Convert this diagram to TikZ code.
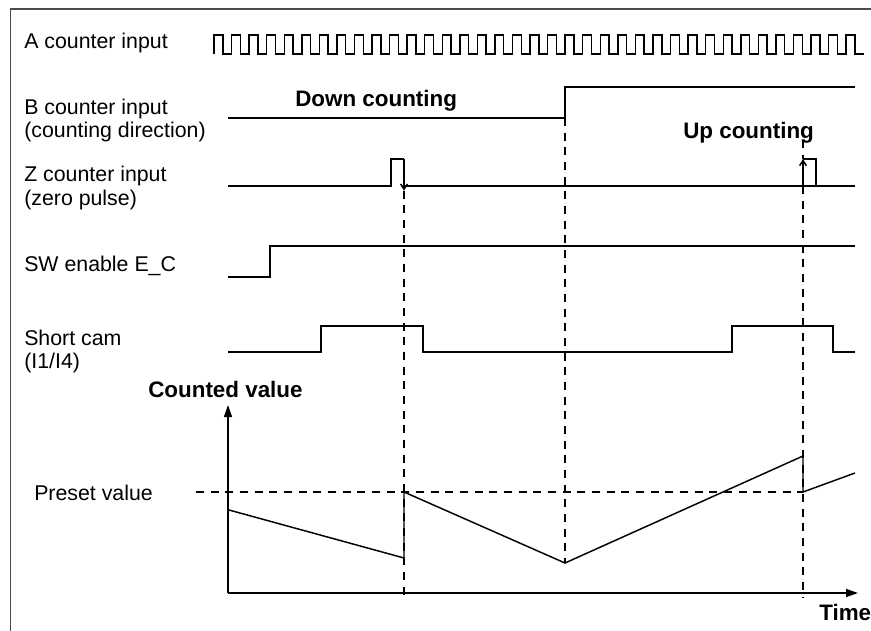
\documentclass[tikz,border=0pt]{standalone}
\usepackage{fontspec}
\setmainfont{Liberation Sans}
\usetikzlibrary{arrows.meta}
\begin{document}
\begin{tikzpicture}[x=0.75pt,y=-0.75pt,
  sig/.style={line width=1.1pt, line join=miter},
  guide/.style={line width=0.9pt, dash pattern=on 6pt off 5pt},
  lbl/.style={anchor=base west, inner sep=0pt, font=\fontsize{16}{20}\selectfont},
  blbl/.style={anchor=base west, inner sep=0pt, font=\fontsize{16.8}{20}\selectfont\bfseries},
  axisline/.style={line width=1.1pt, -{Triangle[length=9pt,width=6pt]}},
  edgearrow/.style={line width=1.1pt, -{Straight Barb[length=4pt,width=5pt]}},
  frameline/.style={line width=1.3pt, black!70}
]
\useasboundingbox (0,0) rectangle (871,631);

% frame (top and left edge)
\draw[frameline] (10.5,631) -- (10.5,9) -- (871,9);

% signal labels
\node[lbl] (la)  at (24,49)  {A counter input};
\node[lbl] (lb1) at (24,115) {B counter input};
\node[lbl] (lb2) at (24,138) {(counting direction)};
\node[lbl] (lz1) at (24,182) {Z counter input};
\node[lbl] (lz2) at (24,205) {(zero pulse)};
\node[lbl] (lsw) at (24,272) {SW enable E\_C};
\node[lbl] (lc1) at (24,345) {Short cam};
\node[lbl] (lc2) at (24,368) {(I1/I4)};
\node[lbl] (lpre) at (34,500) {Preset value};
\node[blbl] (ldown) at (295,107) {Down counting};
\node[blbl] (lup)   at (683,139) {Up counting};
\node[blbl] (lcv)   at (148,397) {Counted value};
\node[blbl] (ltime) at (819,620) {Time};

% A counter input: pulse train
\draw[sig] (214,54) \foreach \i in {1,...,36} { -- ++(0,-19) -- ++(8.78,0) -- ++(0,19) -- ++(8.78,0) }
  -- ++(0,-19) -- ++(8.78,0) -- ++(0,19) -- ++(8.8,0);

% B counter input (counting direction)
\draw[sig] (228,118) -- (565,118) -- (565,87) -- (855,87);

% Z counter input (zero pulses)
\coordinate (z1) at (404,186);
\coordinate (z1t) at (404,159);
\coordinate (z2) at (803,186);
\coordinate (z2t) at (803,159);
\draw[sig] (228,186) -- (391,186) -- (391,159) -- (z1t);
\draw[sig] (z1) -- (z2);
\draw[sig] (z2t) -- (816,159) -- (816,186) -- (855,186);
\draw[sig] (z2) -- (816,186);
\draw[edgearrow] (z1t) -- ([yshift=-3.5pt]z1);
\draw[edgearrow] (z2) -- (z2t);

% SW enable
\draw[sig] (228,277) -- (270,277) -- (270,246) -- (855,246);

% Short cam
\draw[sig] (228,352) -- (321,352) -- (321,326) -- (423,326) -- (423,352)
  -- (732,352) -- (732,326) -- (833,326) -- (833,352) -- (855,352);

% axes of the counted value
\coordinate (o) at (228,593);
\coordinate (ytip) at (228,405);
\coordinate (xtip) at (858,593);
\draw[axisline] (o) -- (ytip);
\draw[axisline] (o) -- (xtip);

% guide lines
\coordinate (pl) at (196,492);
\coordinate (pr) at (803,492);
\draw[guide] (pl) -- (pr);
\draw[guide] ([yshift=-3.5pt]z1) -- (404,597);
\draw[guide] (565,118) -- (565,563);
\draw[guide] (803,140) -- (z2t);
\draw[guide] (z2) -- (803,597);

% counted value
\draw[sig] (229,510) -- (404,558) -- (404,492) -- (565,563) -- (803,456) -- (803,492) -- (855,473);
\end{tikzpicture}
\end{document}
